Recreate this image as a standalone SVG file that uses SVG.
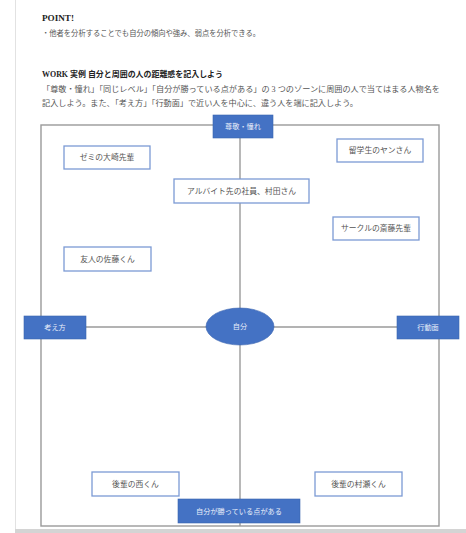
<svg xmlns="http://www.w3.org/2000/svg" width="466" height="533" viewBox="0 0 466 533">
<style>
text{font-family:"Liberation Serif","Noto Sans CJK JP",serif;}
.h{font-size:8px;font-weight:bold;fill:#222;}
.b{font-size:7.5px;fill:#555;}
.nb rect{fill:#fff;stroke:#7c9ad4;stroke-width:1.3;}
.nb text{font-size:7.8px;fill:#555;text-anchor:middle;}
.bl rect,.bl ellipse{fill:#4472c4;stroke:#3a64b0;stroke-width:0.6;}
.bl text{font-size:7.2px;fill:#e8eefa;text-anchor:middle;}
.ax{stroke:#9a9a9a;stroke-width:1.4;fill:none;}
</style>
<rect x="0" y="0" width="466" height="533" fill="#fff"/>
<line x1="15.5" y1="0" x2="15.5" y2="529" stroke="#e2e2e2" stroke-width="1"/>
<rect x="15" y="529" width="451" height="4" fill="#d4d4d4"/>

<g id="header">
<text class="h" x="42" y="21" textLength="32" lengthAdjust="spacingAndGlyphs">POINT!</text>
<text class="b" x="42" y="36" textLength="218" lengthAdjust="spacingAndGlyphs">・他者を分析することでも自分の傾向や強み、弱点を分析できる。</text>
<text class="h" x="42" y="77" textLength="181" lengthAdjust="spacingAndGlyphs">WORK 実例 自分と周囲の人の距離感を記入しよう</text>
<text class="b" x="42" y="92" textLength="398" lengthAdjust="spacingAndGlyphs">「尊敬・憧れ」「同じレベル」「自分が勝っている点がある」の 3 つのゾーンに周囲の人で当てはまる人物名を</text>
<text class="b" x="42" y="106" textLength="316" lengthAdjust="spacingAndGlyphs">記入しよう。また、「考え方」「行動面」で近い人を中心に、違う人を端に記入しよう。</text>
</g>

<g id="connectors">
<rect class="ax" x="41" y="125" width="398" height="401" stroke="#8a8a8a"/>
<line class="ax" x1="240" y1="125" x2="240" y2="526"/>
<line class="ax" x1="41" y1="327" x2="439" y2="327"/>
</g>

<g id="n-zemi" class="nb"><rect x="64" y="146" width="86" height="23"/><text x="107" y="160">ゼミの大崎先輩</text></g>
<g id="n-yan" class="nb"><rect x="337" y="139" width="86" height="23"/><text x="380" y="153">留学生のヤンさん</text></g>
<g id="n-murata" class="nb"><rect x="174" y="179" width="135" height="24"/><text x="241.5" y="193.5">アルバイト先の社員、村田さん</text></g>
<g id="n-saito" class="nb"><rect x="333" y="217" width="86" height="23"/><text x="376" y="231">サークルの斎藤先輩</text></g>
<g id="n-sato" class="nb"><rect x="64" y="247" width="87" height="24"/><text x="107.5" y="261.5">友人の佐藤くん</text></g>
<g id="n-nishi" class="nb"><rect x="92" y="472" width="87" height="24"/><text x="135.5" y="486.5">後輩の西くん</text></g>
<g id="n-murase" class="nb"><rect x="315" y="472" width="87" height="24"/><text x="358.5" y="486.5">後輩の村瀬くん</text></g>

<g id="l-sonkei" class="bl"><rect x="213" y="115" width="60" height="23"/><text x="243" y="129">尊敬・憧れ</text></g>
<g id="l-kangae" class="bl"><rect x="24" y="316" width="62" height="23"/><text x="55" y="330">考え方</text></g>
<g id="l-kodo" class="bl"><rect x="397" y="316" width="62" height="23"/><text x="428" y="330">行動面</text></g>
<g id="l-jibun" class="bl"><ellipse cx="240" cy="326.5" rx="34" ry="18.5"/><text x="240" y="329">自分</text></g>
<g id="l-katteiru" class="bl"><rect x="178" y="499" width="122" height="24"/><text x="239" y="513.5">自分が勝っている点がある</text></g>
</svg>
